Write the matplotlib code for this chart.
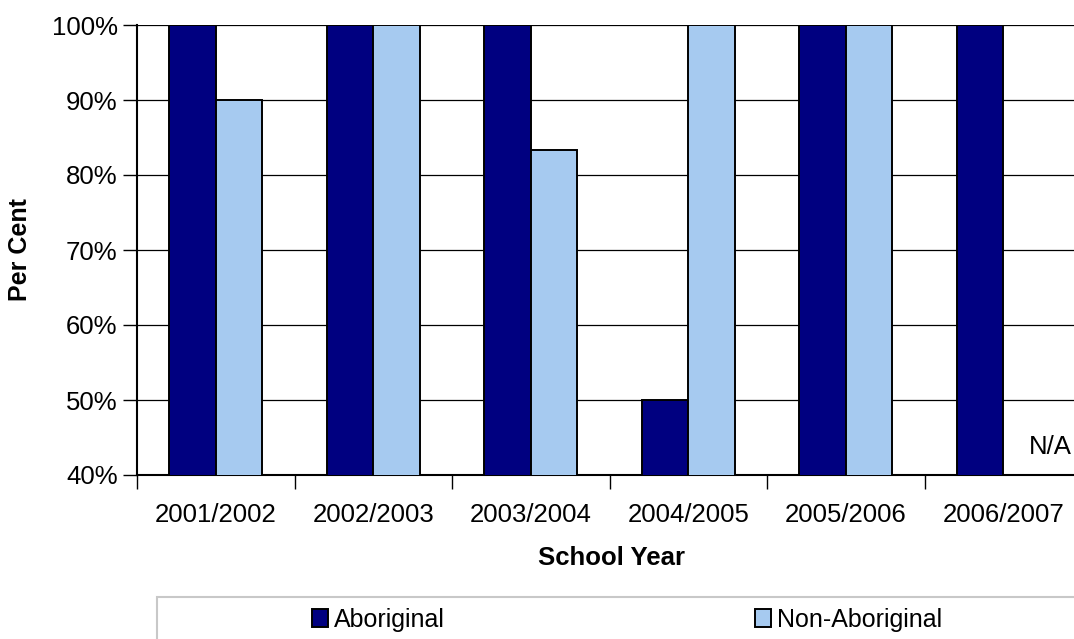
import matplotlib
matplotlib.use("Agg")
import matplotlib.pyplot as plt
from matplotlib.patches import Rectangle
import numpy as np

plt.rcParams['font.family'] = ['Liberation Sans', 'DejaVu Sans']

# chart data
years = ["2001/2002", "2002/2003", "2003/2004", "2004/2005", "2005/2006", "2006/2007"]
aboriginal = [100, 100, 100, 50, 100, 100]
non_aboriginal = [90, 100, 83.3, 100, 100, np.nan]
series_names = ["Aboriginal", "Non-Aboriginal"]
colors = ["#000080", "#A6CAF0"]

W, H = 1074, 639
fig = plt.figure(figsize=(W / 100, H / 100), dpi=100)
# plot area runs slightly past the right edge like the original
ax = fig.add_axes([137 / W, (H - 475) / H, (1082 - 137) / W, (475 - 25) / H])

x = np.arange(len(years))
bw = 0.295
ax.bar(x - bw / 2, aboriginal, bw, color=colors[0], edgecolor="black",
       linewidth=1.4, label=series_names[0], zorder=3)
ax.bar(x + bw / 2, non_aboriginal, bw, color=colors[1], edgecolor="black",
       linewidth=1.4, label=series_names[1], zorder=3)

ax.set_ylim(40, 100)
ax.set_xlim(-0.5, len(years) - 0.5)
ax.set_yticks(range(40, 101, 10))
ax.set_yticklabels([f"{v}%" for v in range(40, 101, 10)], fontsize=18.5)
ax.yaxis.grid(True, color="black", linewidth=0.9, zorder=0)
ax.tick_params(axis="y", length=10, width=1, pad=4)

ax.set_xticks(x)
ax.set_xticklabels(years, fontsize=18.5)
ax.tick_params(axis="x", which="major", length=0, pad=20)
ax.set_xticks(np.arange(len(years) + 1) - 0.5, minor=True)
ax.tick_params(axis="x", which="minor", length=10, width=1)

for s in ["top", "right"]:
    ax.spines[s].set_visible(False)
ax.spines["left"].set_linewidth(1.5)
ax.spines["bottom"].set_linewidth(1.5)

fig.text(20 / W, 1 - 250 / H, "Per Cent", fontsize=18, fontweight="bold",
         rotation=90, ha="center", va="center")
fig.text(611 / W, 1 - 558 / H, "School Year", fontsize=18.5, fontweight="bold",
         ha="center", va="center")

ax.text(5.436, 43.67, "N/A", fontsize=18.5, ha="right", va="center")

# legend box, running off the right and bottom edges
fig.patches.append(Rectangle((157 / W, -0.05), (W - 157) / W + 0.1, 42 / H + 0.05,
                             transform=fig.transFigure, facecolor="white",
                             edgecolor="#C8C8C8", linewidth=1.5))
handles, labels = ax.get_legend_handles_labels()
fig.legend(handles, labels, loc="center left", bbox_to_anchor=(289 / W, 19 / H),
           ncol=2, frameon=False, fontsize=18, handlelength=0.65, handleheight=0.75,
           handletextpad=0.25, columnspacing=12.4)

fig.savefig("out.png", dpi=100)
